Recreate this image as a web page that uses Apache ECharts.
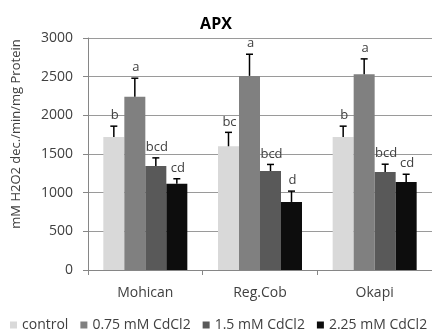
<!DOCTYPE html>
<html>
<head>
<meta charset="utf-8">
<script src="https://cdn.jsdelivr.net/npm/echarts@6/dist/echarts.min.js"></script>
<style>
  html, body { margin: 0; padding: 0; background: #fff; }
  #chart { width: 432px; height: 334px; }
</style>
</head>
<body>
<div id="chart"></div>
<script>
// 数据
var categories = ['Mohican', 'Reg.Cob', 'Okapi'];
var seriesNames = ['control', '0.75 mM CdCl2', '1.5 mM CdCl2', '2.25 mM CdCl2'];
var colors = ['#d9d9d9', '#808080', '#595959', '#0d0d0d'];

var control = [1720, 1600, 1720];
var cd075 = [2240, 2510, 2530];
var cd15 = [1345, 1280, 1268];
var cd225 = [1115, 880, 1138];

var errControl = [140, 180, 140];
var errCd075 = [240, 280, 200];
var errCd15 = [105, 85, 100];
var errCd225 = [65, 140, 100];

var lettersControl = ['b', 'bc', 'b'];
var lettersCd075 = ['a', 'a', 'a'];
var lettersCd15 = ['bcd', 'bcd', 'bcd'];
var lettersCd225 = ['cd', 'd', 'cd'];

var yTicks = [0, 500, 1000, 1500, 2000, 2500, 3000];

var values = [control, cd075, cd15, cd225];
var errors = [errControl, errCd075, errCd15, errCd225];
var letters = [lettersControl, lettersCd075, lettersCd15, lettersCd225];

var BAR_W = 21;
var FONT = '"Open Sans", sans-serif';

var container = echarts.init(document.getElementById('chart'));

// 误差线 + 显著性字母
function errSeries(i) {
	return {
		type: 'custom',
		z: 10,
		silent: true,
		data: categories.map(function (c, k) {
			return [k, values[i][k], values[i][k] + errors[i][k]];
		}),
		renderItem: function (params, api) {
			var base = api.coord([api.value(0), api.value(1)]);
			var top = api.coord([api.value(0), api.value(2)]);
			var x = base[0] + (i - 1.5) * BAR_W;
			var lbl = letters[i][params.dataIndex];
			return {
				type: 'group',
				children: [{
					type: 'line',
					shape: { x1: x, y1: base[1], x2: x, y2: top[1] },
					style: { stroke: '#000', lineWidth: 1.5 }
				}, {
					type: 'line',
					shape: { x1: x - 3.5, y1: top[1], x2: x + 3.5, y2: top[1] },
					style: { stroke: '#000', lineWidth: 1.5 }
				}, {
					type: 'text',
					style: {
						text: lbl,
						x: x + 1,
						y: top[1] - 4,
						align: 'center',
						verticalAlign: 'bottom',
						font: '13px ' + FONT,
						fill: '#404040'
					}
				}]
			};
		}
	};
}

var series = [];
for (var i = 0; i < 4; i++) {
	series.push({
		name: seriesNames[i],
		type: 'bar',
		data: values[i],
		barWidth: BAR_W,
		barGap: '0%',
		itemStyle: { color: colors[i] }
	});
}
for (var j = 0; j < 4; j++) {
	series.push(errSeries(j));
}

container.setOption({
	animation: false,
	textStyle: { fontFamily: FONT },
	title: {
		text: 'APX',
		left: 'center',
		top: 11,
		textStyle: { fontSize: 16, fontWeight: 'bold', color: '#000', fontFamily: FONT }
	},
	legend: {
		data: seriesNames,
		left: 5,
		top: 313,
		width: 460,
		icon: 'rect',
		itemWidth: 7,
		itemHeight: 7,
		itemGap: 12,
		textStyle: { fontSize: 14, color: '#404040', fontFamily: FONT }
	},
	grid: { left: 88, right: -4, top: 38, bottom: 64 },
	xAxis: {
		type: 'category',
		data: categories,
		axisLine: { lineStyle: { color: '#868686' } },
		axisTick: { show: true, length: 5, lineStyle: { color: '#868686' } },
		axisLabel: { margin: 16, fontSize: 14, color: '#404040', fontFamily: FONT }
	},
	yAxis: {
		type: 'value',
		min: yTicks[0],
		max: yTicks[yTicks.length - 1],
		interval: 500,
		axisLine: { show: true, lineStyle: { color: '#868686' } },
		axisTick: { show: true, length: 5, lineStyle: { color: '#868686' } },
		axisLabel: {
			margin: 15, fontSize: 14, color: '#404040', fontFamily: FONT,
			formatter: function (v) { return String(v); }
		},
		splitLine: { lineStyle: { color: '#9a9a9a' } }
	},
	graphic: [{
		type: 'text',
		x: 16,
		y: 134,
		rotation: Math.PI / 2,
		style: {
			text: 'mM H2O2 dec./min/mg Protein',
			align: 'center',
			verticalAlign: 'middle',
			font: '13px ' + FONT,
			fill: '#404040'
		}
	}],
	series: series
});
</script>
</body>
</html>
